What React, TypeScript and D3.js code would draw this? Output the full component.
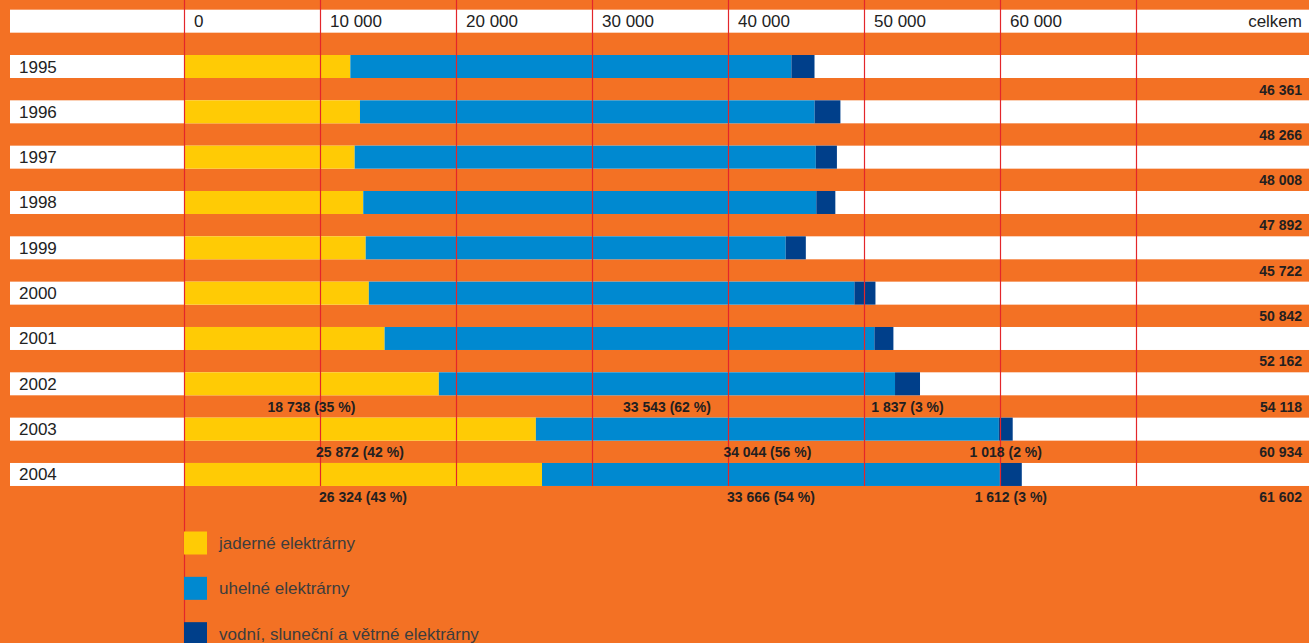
import React from "react";
import * as d3 from "d3";

const years = [1995, 1996, 1997, 1998, 1999, 2000, 2001, 2002, 2003, 2004];
const nuclear = [12230, 12940, 12550, 13180, 13360, 13590, 14750, 18738, 25872, 26324];
const coal = [32431, 33426, 33908, 33312, 30882, 35702, 36012, 33543, 34044, 33666];
const renewable = [1700, 1900, 1550, 1400, 1480, 1550, 1400, 1837, 1018, 1612];
const totals = [46361, 48266, 48008, 47892, 45722, 50842, 52162, 54118, 60934, 61602];

const labeledYears = [2002, 2003, 2004];
const nuclearPct = [35, 42, 43];
const coalPct = [62, 56, 54];
const renewablePct = [3, 2, 3];

const tickValues = [0, 10000, 20000, 30000, 40000, 50000, 60000, 70000];
const tickLabels = [0, 10000, 20000, 30000, 40000, 50000, 60000];
const totalHeader = "celkem";

const seriesNames = ["jaderné elektrárny", "uhelné elektrárny", "vodní, sluneční a větrné elektrárny"];
const seriesColors = ["#FFCB05", "#0089D0", "#003F8A"];

const W = 1309;
const H = 643;
const ORANGE = "#F37124";
const GRID = "#E3262B";
const FONT = "'Liberation Sans', Arial, Helvetica, sans-serif";

const locale = d3.formatLocale({ decimal: ",", thousands: " ", grouping: [3], currency: ["", ""] });
const fmt = locale.format(",d");

export default function App() {
  const x = d3.scaleLinear().domain([0, 70000]).range([184, 1136]);
  const rows = ["header", ...years.map(String)];
  const y = d3
    .scaleBand<string>()
    .domain(rows)
    .range([9.67, 9.67 + 10 * 45.33 + 23])
    .paddingInner(1 - 23 / 45.33)
    .paddingOuter(0);
  const bw = y.bandwidth();
  const stack = years.map((yr, i) => {
    const a = nuclear[i];
    const b = a + coal[i];
    const c = b + renewable[i];
    return [
      [0, a],
      [a, b],
      [b, c],
    ];
  });
  const gridBottom = (y(String(years[years.length - 1])) as number) + bw;
  const legendTop = 531.5;
  const legendStep = 45.33;

  return (
    <svg
      width={W}
      height={H}
      style={{ position: "absolute", left: 0, top: 0, display: "block" }}
      fontFamily={FONT}
    >
      <rect x={0} y={0} width={W} height={H} fill={ORANGE} />
      {rows.map((r) => (
        <rect key={r} x={10} y={y(r)} width={W - 10} height={bw} fill="#fff" />
      ))}
      {/* header labels */}
      {tickLabels.map((v) => (
        <text key={v} x={x(v) + 10} y={(y("header") as number) + bw / 2 + 6} fontSize={17} fill="#222">
          {fmt(v)}
        </text>
      ))}
      <text x={1302} y={(y("header") as number) + bw / 2 + 6} fontSize={17} fill="#222" textAnchor="end">
        {totalHeader}
      </text>
      {/* year labels */}
      {years.map((yr) => (
        <text key={yr} x={19} y={(y(String(yr)) as number) + bw / 2 + 6} fontSize={17} fill="#222">
          {yr}
        </text>
      ))}
      {/* bars */}
      {years.map((yr, i) =>
        stack[i].map((seg, j) => (
          <rect
            key={yr + "-" + j}
            x={x(seg[0])}
            y={y(String(yr))}
            width={x(seg[1]) - x(seg[0])}
            height={bw}
            fill={seriesColors[j]}
          />
        ))
      )}
      {/* gridlines */}
      {tickValues.map((v) => (
        <line
          key={v}
          x1={x(v) + 0.5}
          x2={x(v) + 0.5}
          y1={0}
          y2={v === 0 ? H : gridBottom}
          stroke={GRID}
          strokeWidth={1.2}
        />
      ))}
      {/* totals */}
      {years.map((yr, i) => (
        <text
          key={"t" + yr}
          x={1302}
          y={(y(String(yr)) as number) + bw + 16.5}
          fontSize={14}
          fontWeight="bold"
          fill="#231F20"
          textAnchor="end"
        >
          {fmt(totals[i])}
        </text>
      ))}
      {/* component labels */}
      {labeledYears.map((yr, k) => {
        const i = years.indexOf(yr);
        const pcts = [nuclearPct[k], coalPct[k], renewablePct[k]];
        const vals = [nuclear[i], coal[i], renewable[i]];
        return stack[i].map((seg, j) => (
          <text
            key={"c" + yr + j}
            x={(x(seg[0]) + x(seg[1])) / 2}
            y={(y(String(yr)) as number) + bw + 16.5}
            fontSize={14}
            fontWeight="bold"
            fill="#231F20"
            textAnchor="middle"
          >
            {`${fmt(vals[j])} (${pcts[j]} %)`}
          </text>
        ));
      })}
      {/* legend */}
      {seriesNames.map((name, j) => (
        <g key={name} transform={`translate(${x(0)},${legendTop + j * legendStep})`}>
          <rect x={0} y={0} width={23} height={23} fill={seriesColors[j]} />
          <text x={35} y={17.5} fontSize={17} fill="#3d3d3d">
            {name}
          </text>
        </g>
      ))}
    </svg>
  );
}
